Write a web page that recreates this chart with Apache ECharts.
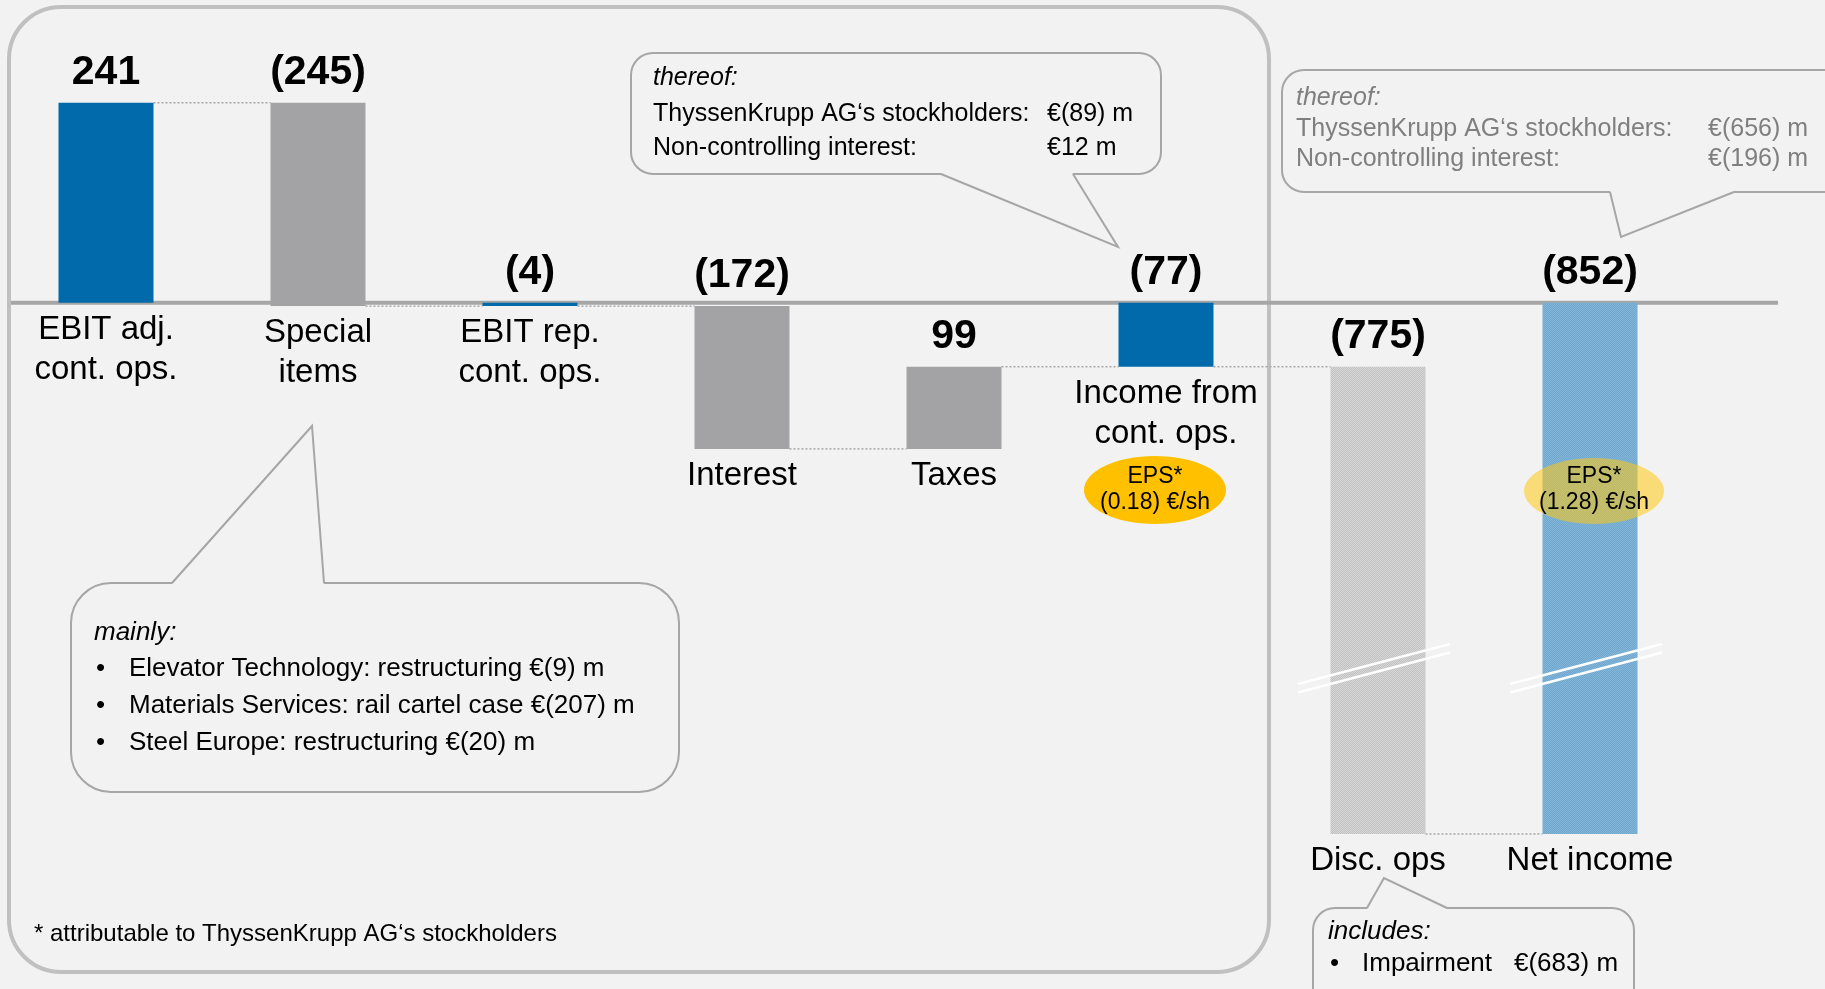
<!DOCTYPE html>
<html lang="en">
<head>
<meta charset="UTF-8">
<title>Net income bridge</title>
<script src="https://cdn.jsdelivr.net/npm/echarts@6/dist/echarts.min.js"></script>
<style>
    html, body { margin: 0; padding: 0; background: #f2f2f2; }
    #main { width: 1825px; height: 989px; }
</style>
</head>
<body>
<div id="main"></div>
<script>
    // values in EUR m
    var categories = ['EBIT adj.\ncont. ops.', 'Special\nitems', 'EBIT rep.\ncont. ops.', 'Interest', 'Taxes', 'Income from\ncont. ops.', 'Disc. ops', 'Net income'];
    var values = [241, -245, -4, -172, 99, -77, -775, -852];
    var kinds = ['total', 'delta', 'total', 'delta', 'delta', 'total', 'delta', 'total'];
    var epsValues = ['(0.18) €/sh', '(1.28) €/sh'];

    var FONT = "'Liberation Sans', Arial, sans-serif";
    var BLUE = '#006aab', GREY = '#a3a3a5', LINE = '#a6a6a6';

    function dither(c1, c2) {
        var cv = document.createElement('canvas');
        cv.width = 2; cv.height = 2;
        var g = cv.getContext('2d');
        g.fillStyle = c1; g.fillRect(0, 0, 2, 2);
        g.fillStyle = c2; g.fillRect(0, 0, 1, 1); g.fillRect(1, 1, 1, 1);
        return { image: cv, repeat: 'repeat' };
    }
    var barFill = [BLUE, GREY, BLUE, GREY, GREY, BLUE, dither('#c2c2c2', '#d6d6d6'), dither('#70a8cd', '#82b5d8')];

    // waterfall start / end levels
    var running = 0;
    var bars = values.map(function (v, i) {
        var start, end;
        if (kinds[i] === 'total') { start = 0; end = v; }
        else { start = running; end = running + v; }
        running = end;
        return [i, start, end, v];
    });

    function fmt(v) { return v < 0 ? '(' + (-v) + ')' : String(v); }

    function renderBar(params, api) {
        var i = api.value(0), start = api.value(1), end = api.value(2), v = api.value(3);
        var cs = params.coordSys;
        var yMin = cs.y, yMax = cs.y + cs.height;
        function clampY(y) { return Math.max(yMin, Math.min(yMax, y)); }
        var p0 = api.coord([i, start]), p1 = api.coord([i, end]);
        var band = api.size([1, 0])[0];
        var w = 95, cx = p0[0], x = cx - w / 2;
        var rawBottom = Math.max(p0[1], p1[1]);
        var top = clampY(Math.min(p0[1], p1[1])), bottom = clampY(rawBottom);
        var children = [];
        if (i === 0) {
            var zy = api.coord([0, 0])[1];
            children.push({ type: 'line', shape: { x1: 11, y1: zy, x2: 1778, y2: zy }, style: { stroke: LINE, lineWidth: 4 } });
        }
        if (i < values.length - 1) {
            var ly = clampY(p1[1]);
            children.push({ type: 'line', shape: { x1: x + w, y1: ly, x2: cx + band - w / 2, y2: ly },
                style: { stroke: LINE, lineWidth: 1.5, lineDash: [2, 2] } });
        }
        children.push({ type: 'rect', shape: { x: x, y: top, width: w, height: bottom - top }, style: { fill: barFill[i] } });
        if (rawBottom > yMax) {
            // axis break marks on the cut bars
            var yb = yMin + cs.height * 0.8;
            [-4, 4.5].forEach(function (d) {
                children.push({ type: 'line', shape: { x1: cx - 80, y1: yb + d + 20, x2: cx + 72, y2: yb + d - 20 },
                    style: { stroke: '#ffffff', lineWidth: 2.5 } });
            });
        }
        children.push({ type: 'text', x: cx, y: top - 30, style: { text: fmt(v), fill: '#000', fontFamily: FONT,
            fontWeight: 'bold', fontSize: 41, align: 'center', verticalAlign: 'middle' } });
        children.push({ type: 'text', x: cx, y: bottom + 7, style: { text: categories[i], fill: '#000', fontFamily: FONT,
            fontSize: 33, lineHeight: 40, align: 'center', verticalAlign: 'top' } });
        return { type: 'group', children: children };
    }

    // text placed by its baseline
    function txt(x, base, s, size, o) {
        o = o || {};
        return { type: 'text', z: 10, x: x, y: base - 0.35 * size,
            style: { text: s, fill: o.color || '#000', fontFamily: FONT, fontSize: size,
                fontStyle: o.italic ? 'italic' : 'normal', align: o.align || 'left', verticalAlign: 'middle' } };
    }

    function callout(x, y, w, h, r, tail) {
        var inner = tail[1][1] > y ? -2 : 2;
        var by = tail[0][1];
        return [
            { type: 'rect', z: 10, shape: { x: x, y: y, width: w, height: h, r: r }, style: { fill: '#f2f2f2', stroke: LINE, lineWidth: 2 } },
            { type: 'polygon', z: 10, shape: { points: [[tail[0][0] + 1, by + inner], tail[0], tail[1], tail[2], [tail[2][0] - 1, by + inner]] }, style: { fill: '#f2f2f2' } },
            { type: 'polyline', z: 10, shape: { points: tail }, style: { stroke: LINE, lineWidth: 2, fill: null } }
        ];
    }

    var graphics = [
        { type: 'rect', z: 1, shape: { x: 9, y: 7, width: 1260, height: 965, r: 52 }, style: { fill: null, stroke: '#c0c0c0', lineWidth: 4 } }
    ];
    graphics = graphics.concat(
        callout(631, 53, 530, 121, 22, [[941, 174], [1118, 247], [1073, 174]]),
        [txt(653, 87, 'thereof:', 25, { italic: true }),
         txt(653, 123, 'ThyssenKrupp AG‘s stockholders:', 25), txt(1047, 123, '€(89) m', 25),
         txt(653, 157, 'Non-controlling interest:', 25), txt(1047, 157, '€12 m', 25)],

        callout(1282, 70, 600, 122, 22, [[1610, 192], [1621, 237], [1734, 192]]),
        [txt(1296, 107, 'thereof:', 25, { italic: true, color: '#7f7f7f' }),
         txt(1296, 138, 'ThyssenKrupp AG‘s stockholders:', 25, { color: '#7f7f7f' }), txt(1708, 138, '€(656) m', 25, { color: '#7f7f7f' }),
         txt(1296, 168, 'Non-controlling interest:', 25, { color: '#7f7f7f' }), txt(1708, 168, '€(196) m', 25, { color: '#7f7f7f' })],

        callout(71, 583, 608, 209, 40, [[172, 583], [312, 426], [324, 583]]),
        [txt(94, 642, 'mainly:', 26, { italic: true }),
         txt(96, 678, '•', 26), txt(129, 678, 'Elevator Technology: restructuring €(9) m', 26),
         txt(96, 715, '•', 26), txt(129, 715, 'Materials Services: rail cartel case €(207) m', 26),
         txt(96, 752, '•', 26), txt(129, 752, 'Steel Europe: restructuring €(20) m', 26)],

        callout(1313, 908, 321, 120, 22, [[1367, 908], [1384, 878], [1447, 908]]),
        [txt(1328, 941, 'includes:', 26, { italic: true }),
         txt(1330, 973, '•', 26), txt(1362, 973, 'Impairment', 26), txt(1514, 973, '€(683) m', 26)],

        [txt(34, 943, '* attributable to ThyssenKrupp AG‘s stockholders', 24)],

        [{ type: 'ellipse', z: 10, shape: { cx: 1155, cy: 490, rx: 71, ry: 34 }, style: { fill: '#ffc000' } },
         txt(1155, 485, 'EPS*', 23, { align: 'center' }), txt(1155, 511, epsValues[0], 23, { align: 'center' }),
         { type: 'ellipse', z: 10, shape: { cx: 1594, cy: 491, rx: 70, ry: 33 }, style: { fill: 'rgba(255,200,20,0.55)' } },
         txt(1594, 485, 'EPS*', 23, { align: 'center' }), txt(1594, 511, epsValues[1], 23, { align: 'center' })]
    );

    var myChart = echarts.init(document.getElementById('main'));
    var option = {
        backgroundColor: '#f2f2f2',
        animation: false,
        grid: { left: 0, width: 1696, top: 4, height: 830 },
        xAxis: { type: 'category', data: categories, show: false },
        yAxis: { type: 'value', min: -640, max: 360, show: false },
        series: [{
            type: 'custom',
            renderItem: renderBar,
            clip: false,
            data: bars
        }],
        graphic: graphics
    };
    myChart.setOption(option);
</script>
</body>
</html>
